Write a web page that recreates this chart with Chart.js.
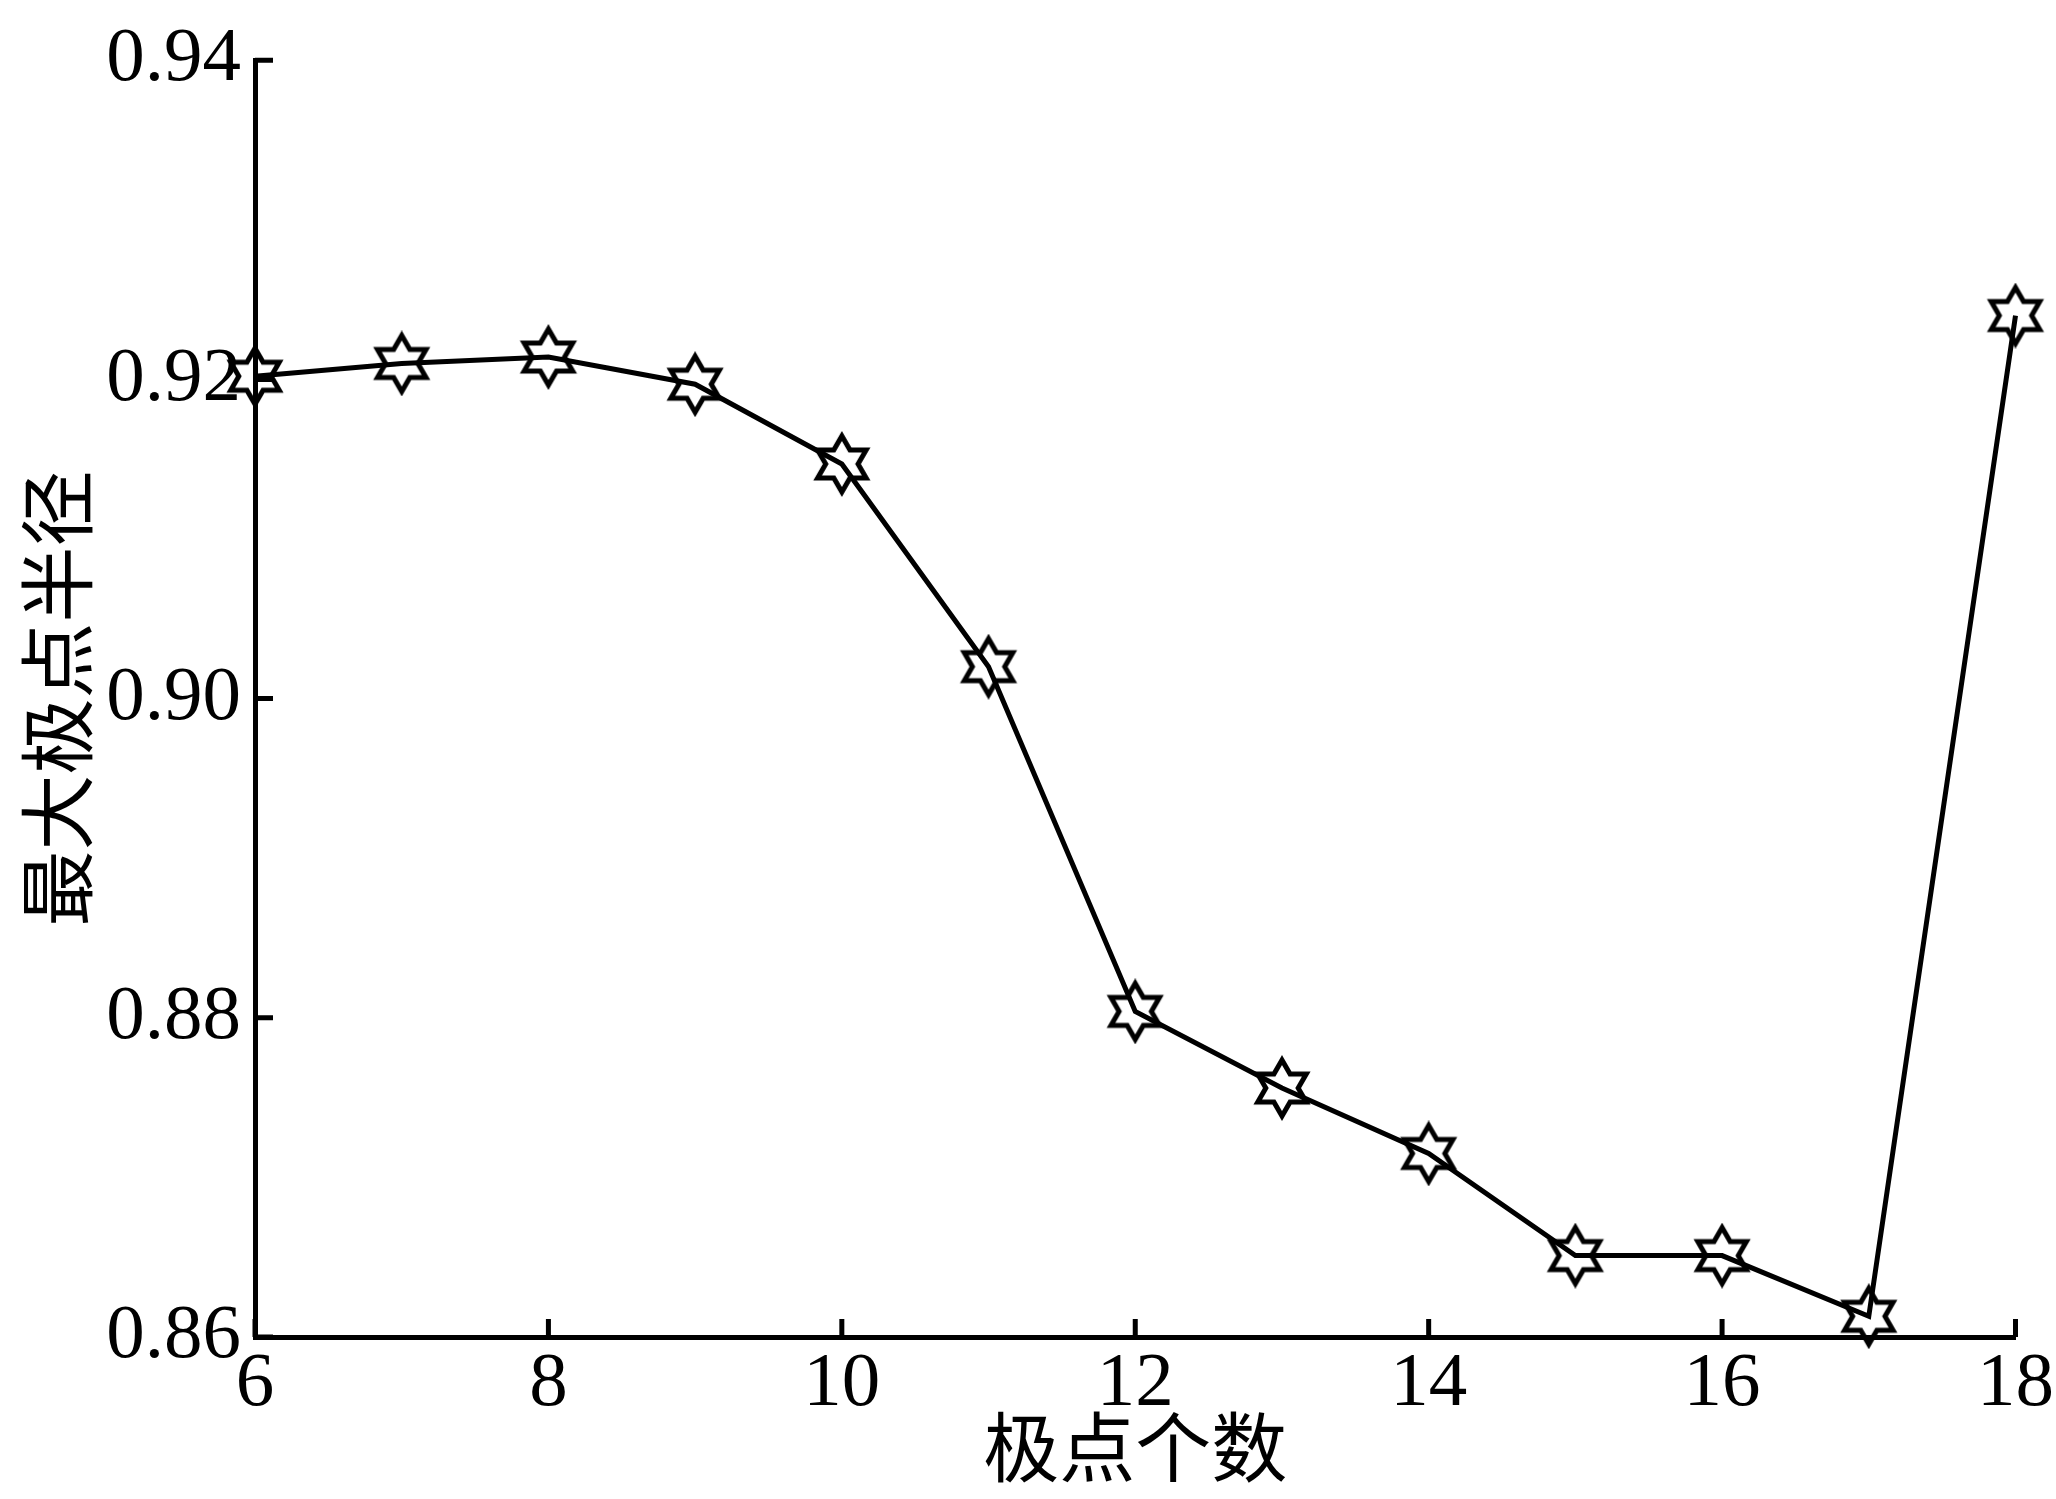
<!DOCTYPE html>
<html>
<head>
<meta charset="utf-8">
<script src="https://cdn.jsdelivr.net/npm/chart.js@4"></script>
<style>
  html, body { margin: 0; padding: 0; background: #fff; }
  canvas { display: block; }
</style>
</head>
<body>
<canvas id="chart" width="2056" height="1499"></canvas>
<script>
const poleCounts = [6, 7, 8, 9, 10, 11, 12, 13, 14, 15, 16, 17, 18];
const maxRadius = [0.9202, 0.9210, 0.9214, 0.9197, 0.9147, 0.9020, 0.8804, 0.8756, 0.8715, 0.8651, 0.8651, 0.8613, 0.9240];
const xTicks = [6, 8, 10, 12, 14, 16, 18];
const yTicks = [0.86, 0.88, 0.90, 0.92, 0.94];

const tickFont = { family: "'Liberation Serif', 'Times New Roman', serif", size: 77 };
const cjkFont = { family: "'Noto Sans CJK SC', sans-serif", size: 76 };

// hexagram marker, outline only
const makeStar = (r, lw) => {
	const size = Math.ceil(2 * r + 2 * lw);
	const c = document.createElement("canvas");
	c.width = size;
	c.height = size;
	const g = c.getContext("2d");
	const cx = size / 2, cy = size / 2, ri = r / Math.sqrt(3);
	g.beginPath();
	for (let i = 0; i < 12; i++) {
		const a = -Math.PI / 2 + i * Math.PI / 6;
		const rr = i % 2 === 0 ? r : ri;
		const px = cx + rr * Math.cos(a), py = cy + rr * Math.sin(a);
		if (i === 0) g.moveTo(px, py); else g.lineTo(px, py);
	}
	g.closePath();
	g.lineWidth = lw;
	g.lineJoin = "miter";
	g.strokeStyle = "#000";
	g.stroke();
	return c;
};
const star = makeStar(28, 5);

// ticks pointing into the plot
const innerTicks = {
	id: "innerTicks",
	afterDraw(chart) {
		const { ctx, chartArea, scales } = chart;
		const len = 18;
		ctx.save();
		ctx.strokeStyle = "#000";
		ctx.lineWidth = 5;
		ctx.beginPath();
		xTicks.forEach((v) => {
			const px = scales.x.getPixelForValue(v);
			ctx.moveTo(px, chartArea.bottom);
			ctx.lineTo(px, chartArea.bottom - len);
		});
		yTicks.forEach((v) => {
			const py = scales.y.getPixelForValue(v);
			ctx.moveTo(chartArea.left, py);
			ctx.lineTo(chartArea.left + len, py);
		});
		ctx.stroke();
		ctx.restore();
	},
};

new Chart(document.getElementById("chart"), {
	type: "line",
	data: {
		datasets: [{
			data: poleCounts.map((x, i) => ({ x, y: maxRadius[i] })),
			borderColor: "#000",
			borderWidth: 5,
			pointStyle: star,
			pointRadius: 28,
			pointHoverRadius: 28,
			tension: 0,
			fill: false,
			clip: false,
		}],
	},
	options: {
		responsive: false,
		animation: false,
		events: [],
		layout: { padding: { left: 0, top: 59, right: 36, bottom: 0 } },
		plugins: {
			legend: { display: false },
			tooltip: { enabled: false },
		},
		scales: {
			x: {
				type: "linear",
				min: 6,
				max: 18,
				afterFit: (scale) => { scale.height = 162; },
				afterBuildTicks: (scale) => { scale.ticks = xTicks.map((v) => ({ value: v })); },
				grid: { display: false, drawTicks: false },
				border: { display: true, color: "#000", width: 5 },
				ticks: { color: "#000", font: tickFont, padding: 2, maxRotation: 0 },
				title: { display: true, text: "极点个数", color: "#000", font: cjkFont, padding: { top: 0, bottom: 6 } },
			},
			y: {
				min: 0.86,
				max: 0.94,
				afterFit: (scale) => { scale.width = 255; },
				afterBuildTicks: (scale) => { scale.ticks = yTicks.map((v) => ({ value: v })); },
				grid: { display: false, drawTicks: false },
				border: { display: true, color: "#000", width: 5 },
				ticks: {
					color: "#000",
					font: tickFont,
					padding: 14,
					callback: (v) => v.toFixed(2),
				},
				title: { display: true, text: "最大极点半径", color: "#000", font: cjkFont, padding: { top: 12, bottom: 0 } },
			},
		},
	},
	plugins: [innerTicks],
});
</script>
</body>
</html>
